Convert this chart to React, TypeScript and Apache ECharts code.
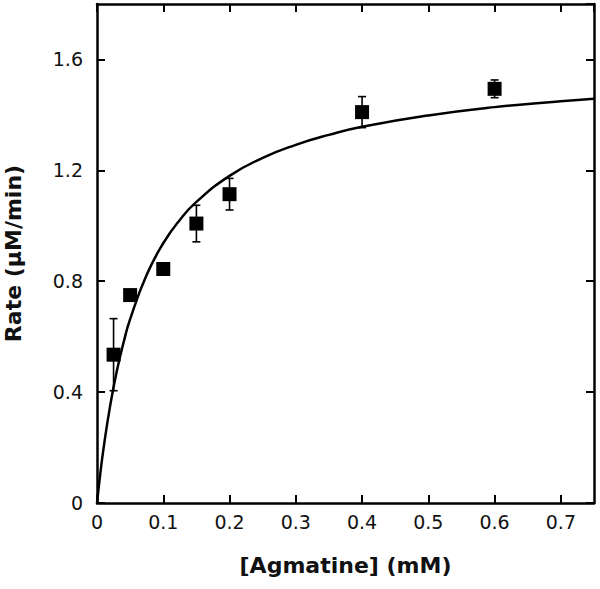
import React, { useEffect, useRef } from "react";
import * as echarts from "echarts";

const concentration = [0.025, 0.05, 0.1, 0.15, 0.2, 0.4, 0.6];
const rate = [0.535, 0.75, 0.844, 1.008, 1.114, 1.41, 1.494];
const rateError = [0.13, 0.0, 0.0, 0.066, 0.057, 0.056, 0.032];

const fitX = [0, 0.005, 0.01, 0.02, 0.03, 0.04, 0.05, 0.075, 0.1, 0.125, 0.15, 0.2, 0.25, 0.3, 0.35, 0.4, 0.5, 0.6, 0.7, 0.75];
const fitY = [0, 0.106, 0.199, 0.353, 0.477, 0.578, 0.663, 0.823, 0.937, 1.021, 1.086, 1.18, 1.245, 1.292, 1.328, 1.357, 1.398, 1.428, 1.449, 1.458];

const xTitle = "[Agmatine] (mM)";
const yTitle = "Rate (\u03bcM/min)";

const FONT = "'DejaVu Sans', 'Liberation Sans', Arial, sans-serif";

export default function App() {
  const ref = useRef<HTMLDivElement>(null);
  useEffect(() => {
    if (!ref.current) return;
    const chart = echarts.init(ref.current, null, { renderer: "svg" });
    const axisLine = { show: true, onZero: false, lineStyle: { color: "#000", width: 2.5 } };
    const tick = { show: true, inside: true, length: 8, lineStyle: { color: "#000", width: 2 } };
    const label = { color: "#111", fontSize: 19, fontFamily: FONT, showMaxLabel: false };
    const errData = concentration
      .map((x, i) => [x, rate[i] - rateError[i], rate[i] + rateError[i], rateError[i]])
      .filter((d) => d[3] > 0);
    chart.setOption({
      animation: false,
      backgroundColor: "#fff",
      grid: { left: 97, right: 6, top: 4, bottom: 86, containLabel: false, outerBoundsMode: "none" },
      xAxis: [
        {
          type: "value", min: 0, max: 0.75, interval: 0.1, position: "bottom",
          axisLine, axisTick: tick, splitLine: { show: false },
          axisLabel: { ...label, margin: 9 },
          name: xTitle, nameLocation: "middle", nameGap: 51,
          nameTextStyle: { fontSize: 22, fontWeight: "bold", color: "#111", fontFamily: FONT },
        },
        {
          type: "value", min: 0, max: 0.75, interval: 0.1, position: "top",
          axisLine, axisTick: tick, splitLine: { show: false }, axisLabel: { show: false },
        },
      ],
      yAxis: [
        {
          type: "value", min: 0, max: 1.8, interval: 0.4, position: "left",
          axisLine, axisTick: tick, splitLine: { show: false },
          axisLabel: { ...label, margin: 14 },
          name: yTitle, nameLocation: "middle", nameGap: 73,
          nameTextStyle: { fontSize: 22, fontWeight: "bold", color: "#111", fontFamily: FONT },
        },
        {
          type: "value", min: 0, max: 1.8, interval: 0.4, position: "right",
          axisLine, axisTick: tick, splitLine: { show: false }, axisLabel: { show: false },
        },
      ],
      series: [
        {
          type: "line",
          data: fitX.map((x, i) => [x, fitY[i]]),
          smooth: true,
          showSymbol: false,
          lineStyle: { color: "#000", width: 2.5 },
          z: 2,
        },
        {
          type: "custom",
          data: errData,
          renderItem: (params: any, api: any) => {
            const x = api.value(0);
            const lo = api.coord([x, api.value(1)]);
            const hi = api.coord([x, api.value(2)]);
            const w = 4;
            const style = { stroke: "#000", lineWidth: 1.6 };
            return {
              type: "group",
              children: [
                { type: "line", shape: { x1: lo[0], y1: lo[1], x2: hi[0], y2: hi[1] }, style },
                { type: "line", shape: { x1: lo[0] - w, y1: lo[1], x2: lo[0] + w, y2: lo[1] }, style },
                { type: "line", shape: { x1: hi[0] - w, y1: hi[1], x2: hi[0] + w, y2: hi[1] }, style },
              ],
            };
          },
          z: 3,
        },
        {
          type: "scatter",
          data: concentration.map((x, i) => [x, rate[i]]),
          symbol: "rect",
          symbolSize: 14,
          itemStyle: { color: "#000", opacity: 1 },
          z: 4,
        },
      ],
    });
    return () => chart.dispose();
  }, []);
  return <div ref={ref} style={{ width: 600, height: 589, position: "absolute", left: 0, top: 0 }} />;
}
